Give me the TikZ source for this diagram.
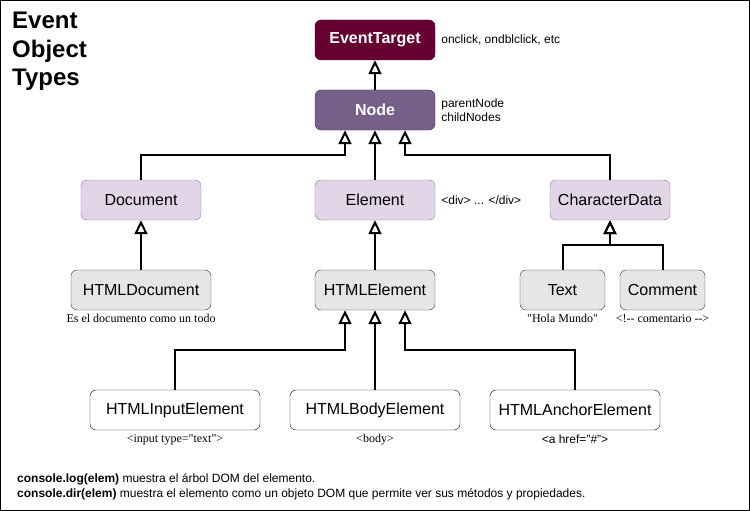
\documentclass[tikz,border=0pt]{standalone}
\usepackage{fontspec}
\setmainfont{Liberation Sans}
\newfontfamily\serifnote{Liberation Serif}
\usepackage{tikz}
\usetikzlibrary{arrows.meta}

\definecolor{targetfill}{HTML}{660033}
\definecolor{targetline}{HTML}{3A0021}
\definecolor{nodefill}{HTML}{76608A}
\definecolor{nodeline}{HTML}{432D57}
\definecolor{lilafill}{HTML}{E1D5E7}
\definecolor{lilaline}{HTML}{9673A6}
\definecolor{grisfill}{HTML}{E6E6E6}
\definecolor{grisline}{HTML}{333333}

\begin{document}
\begin{tikzpicture}[x=1pt, y=-1pt,
    caja/.style={draw, rounded corners=6pt, minimum width=120pt, minimum height=40pt,
                 inner sep=0pt, font=\fontsize{16}{19}\selectfont},
    oscura/.style={caja, fill=targetfill, draw=targetline, text=white, font=\fontsize{16}{19}\selectfont\bfseries},
    media/.style={caja, fill=nodefill, draw=nodeline, text=white, font=\fontsize{16}{19}\selectfont\bfseries},
    lila/.style={caja, fill=lilafill, draw=lilaline},
    gris/.style={caja, fill=grisfill, draw=grisline},
    blanca/.style={caja, fill=white, draw=black, minimum width=170pt},
    nota/.style={font=\fontsize{12}{14}\selectfont, align=left, inner sep=0pt},
    notaserif/.style={font=\fontsize{12}{14}\selectfont\serifnote, inner sep=0pt},
    hereda/.style={line width=2pt, -{Triangle[open, length=14pt, width=13pt, line width=2pt]}}]
\useasboundingbox (0,0) rectangle (750,511);
\draw[line width=1pt] (0.5,0.5) rectangle (749.5,510.5);

% titulo
\node[anchor=north west, align=left, inner sep=0pt, font=\fontsize{24}{28.5}\selectfont\bfseries]
    (titulo) at (12,12) {Event\\Object\\Types};

% jerarquia
\node[oscura] (target)   at (375,40)  {EventTarget};
\node[media]  (dnode)    at (375,110) {Node};
\node[lila]   (document) at (141,200) {Document};
\node[lila]   (element)  at (375,200) {Element};
\node[lila]   (chardata) at (610,200) {CharacterData};
\node[gris, minimum width=140pt] (htmldoc)  at (141,290) {HTMLDocument};
\node[gris]                      (htmlelem) at (375,290) {HTMLElement};
\node[gris, minimum width=85pt]  (txt)      at (562.5,290) {Text};
\node[gris, minimum width=85pt]  (comment)  at (662.5,290) {Comment};
\node[blanca] (input) at (175,410) {HTMLInputElement};
\node[blanca] (body)  at (375,410) {HTMLBodyElement};
\node[blanca] (ancla) at (575,410) {HTMLAnchorElement};

\draw[hereda] (dnode.north) -- (target.south);
\draw[hereda] (document.north) -- ++(0,-25) -| ([xshift=-30pt]dnode.south);
\draw[hereda] (element.north) -- (dnode.south);
\draw[hereda] (chardata.north) -- ++(0,-25) -| ([xshift=30pt]dnode.south);
\draw[hereda] (htmldoc.north) -- (document.south);
\draw[hereda] (htmlelem.north) -- (element.south);
\draw[hereda] (txt.north) -- ++(0,-25) -| (chardata.south);
\draw[hereda] (comment.north) -- ++(0,-25) -| (chardata.south);
\draw[hereda] (input.north) -- ++(0,-40) -| ([xshift=-30pt]htmlelem.south);
\draw[hereda] (body.north) -- (htmlelem.south);
\draw[hereda] (ancla.north) -- ++(0,-40) -| ([xshift=30pt]htmlelem.south);

% notas
\node[nota, anchor=west] (n1) at ([xshift=6pt]target.east) {onclick, ondblclick, etc};
\node[nota, anchor=west] (n2) at ([xshift=6pt]dnode.east) {parentNode\\childNodes};
\node[nota, anchor=west] (n3) at ([xshift=6pt]element.east) {<div> ... </div>};
\node[notaserif, anchor=north] (n4) at ([yshift=-4pt]htmldoc.south) {Es el documento como un todo};
\node[notaserif, anchor=north] (n5) at ([yshift=-4pt]txt.south) {"Hola Mundo"};
\node[notaserif, anchor=north] (n6) at ([yshift=-4pt]comment.south) {<!-- comentario -->};
\node[notaserif, anchor=north] (n7) at ([yshift=-4pt]input.south) {<input type="text">};
\node[notaserif, anchor=north] (n8) at ([yshift=-4pt]body.south) {<body>};
\node[nota, anchor=north] (n9) at ([yshift=-4pt]ancla.south) {<a href="\#">};

\node[nota, anchor=base west] (log) at (17,482) {\textbf{console.log(elem)} muestra el árbol DOM del elemento.};
\node[nota, anchor=base west] (dir) at (17,497) {\textbf{console.dir(elem)} muestra el elemento como un objeto DOM que permite ver sus métodos y propiedades.};
\end{tikzpicture}
\end{document}
